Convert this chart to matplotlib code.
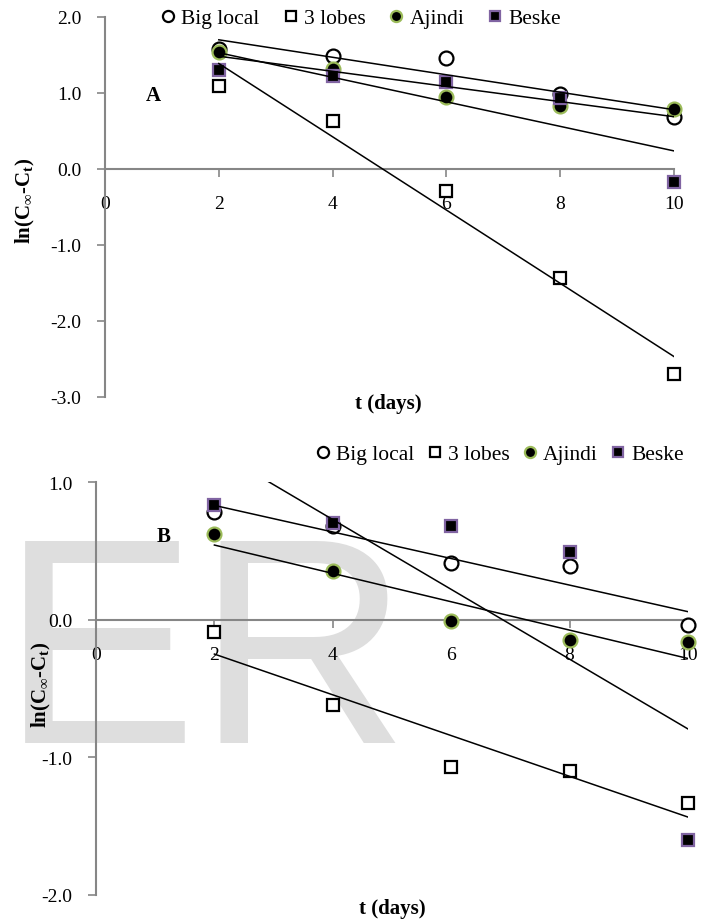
import matplotlib

matplotlib.use("Agg")

import matplotlib.pyplot as plt
import numpy as np
from matplotlib.lines import Line2D

plt.rcParams["font.family"] = ["Liberation Serif", "DejaVu Serif"]
plt.rcParams["axes.unicode_minus"] = False
plt.rcParams["mathtext.fontset"] = "custom"
plt.rcParams["mathtext.rm"] = "Liberation Serif:bold"
plt.rcParams["mathtext.bf"] = "Liberation Serif:bold"

# sampling days
t_days = [2, 4, 6, 8, 10]

# panel A: ln(Cinf - Ct)
a_big_local = [1.58, 1.49, 1.46, 0.99, 0.68]
a_three_lobes = [1.09, 0.63, -0.29, -1.43, -2.70]
a_ajindi = [1.54, 1.32, 0.95, 0.83, 0.79]
a_beske = [1.30, 1.22, 1.14, 0.93, -0.17]

# panel B: ln(Cinf - Ct)
b_big_local = [0.78, 0.68, 0.41, 0.39, -0.04]
b_three_lobes = [-0.09, -0.62, -1.07, -1.10, -1.33]
b_ajindi = [0.62, 0.35, -0.01, -0.15, -0.16]
b_beske = [0.83, 0.70, 0.68, 0.49, -1.60]

names = ["Big local", "3 lobes", "Ajindi", "Beske"]
x_ticks = [0, 2, 4, 6, 8, 10]
a_yticks = [-3.0, -2.0, -1.0, 0.0, 1.0, 2.0]
b_yticks = [-2.0, -1.0, 0.0, 1.0]

styles = [
    dict(marker="o", mfc="white", mec="black", ms=10),
    dict(marker="s", mfc="white", mec="black", ms=9),
    dict(marker="o", mfc="black", mec="#9BBB59", ms=10),
    dict(marker="s", mfc="black", mec="#8064A2", ms=9),
]
GREY = "#868686"

fig = plt.figure(figsize=(7.06, 9.20), dpi=100)
W, H = 706, 920


def px_axes(x0, x1, y_top, y_bot):
    return fig.add_axes([x0 / W, 1 - y_bot / H, (x1 - x0) / W, (y_bot - y_top) / H])


def draw_panel(ax, series, yticks, letter, letter_xy):
    ax.set_facecolor("none")
    for ys, st in zip(series, styles):
        ax.plot(t_days, ys, linestyle="none", mew=1.6, zorder=3, clip_on=False, **st)
    # linear trend lines, drawn over the markers like the original
    xs = np.array([t_days[0], t_days[-1]])
    for ys in series:
        k, b = np.polyfit(t_days, ys, 1)
        ax.plot(xs, k * xs + b, color="black", lw=1.1, zorder=4)

    ax.set_xlim(0, 10)
    ax.set_ylim(yticks[0], yticks[-1])
    ax.set_xticks(x_ticks)
    ax.set_yticks(yticks)
    ax.set_yticklabels([f"{v:.1f}" for v in yticks])
    for s in ["top", "right"]:
        ax.spines[s].set_visible(False)
    ax.spines["bottom"].set_position(("data", 0))
    for s in ["left", "bottom"]:
        ax.spines[s].set_color(GREY)
        ax.spines[s].set_linewidth(1.5)
    ax.tick_params(axis="x", direction="out", length=6, width=1.2, color=GREY,
                   pad=13, labelsize=14)
    ax.tick_params(axis="y", direction="out", length=6, width=1.2, color=GREY,
                   pad=11, labelsize=14)
    ax.text(letter_xy[0], letter_xy[1], letter, fontsize=15, fontweight="bold",
            ha="center", va="center")


ax_a = px_axes(105, 674, 18, 398)
draw_panel(ax_a, [a_big_local, a_three_lobes, a_ajindi, a_beske], a_yticks,
           "A", (0.85, 0.97))

ax_b = px_axes(96, 688, 483, 896)
draw_panel(ax_b, [b_big_local, b_three_lobes, b_ajindi, b_beske], b_yticks,
           "B", (1.15, 0.61))

# watermark from the source page
fig.text(1 / W, 1 - 743 / H, "ER", family="Liberation Sans", fontsize=212,
         color="#dedede", ha="left", va="baseline", zorder=-5)

ylab = r"ln(C$_\infty$-C$_\mathbf{t}$)"
fig.text(25 / W, 1 - 201 / H, ylab, rotation=90, fontsize=15, fontweight="bold",
         ha="center", va="center")
fig.text(41 / W, 1 - 685 / H, ylab, rotation=90, fontsize=15, fontweight="bold",
         ha="center", va="center")
fig.text(388 / W, 1 - 404 / H, "t (days)", fontsize=15, fontweight="bold",
         ha="center", va="center")
fig.text(392 / W, 1 - 909 / H, "t (days)", fontsize=15, fontweight="bold",
         ha="center", va="center")

handles = [Line2D([], [], linestyle="none", mew=1.6, **st) for st in styles]
leg_kw = dict(ncol=4, frameon=False, fontsize=15.5, markerscale=0.8,
              handlelength=0.6, handletextpad=0.3, borderpad=0,
              loc="center left")
fig.legend(handles, names, bbox_to_anchor=(151 / W, 1 - 19 / H),
           columnspacing=1.15, **leg_kw)
fig.legend(handles, names, bbox_to_anchor=(306 / W, 1 - 455 / H),
           columnspacing=0.65, **leg_kw)

fig.savefig("out.png", dpi=100)
